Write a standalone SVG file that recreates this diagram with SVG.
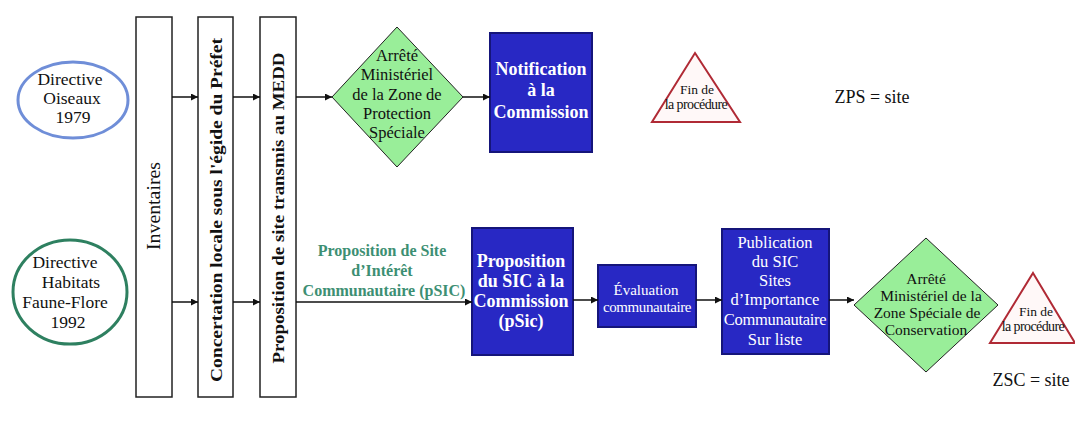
<svg xmlns="http://www.w3.org/2000/svg" width="1075" height="421" viewBox="0 0 1075 421">
<defs>
<style>
.t{font-family:"Liberation Serif","Times New Roman","DejaVu Serif",serif;text-anchor:middle;fill:#111}
.w{fill:#fff}
.b{font-weight:bold}
.g{fill:#3d8f73;font-weight:bold}
.col{fill:#fff;stroke:#222;stroke-width:1.5}
.box{fill:#2828c4;stroke:#15157a;stroke-width:2}
.dia{fill:#99ee99;stroke:#222;stroke-width:1}
.tri{fill:#fff8f8;stroke:#b02a35;stroke-width:2}
.c{stroke:#111;stroke-width:1.5;fill:none;marker-end:url(#ah)}
</style>
<marker id="ah" viewBox="0 0 10 10" refX="10" refY="5" markerWidth="8" markerHeight="7" markerUnits="userSpaceOnUse" orient="auto">
<path d="M0,0 L10,5 L0,10 z" fill="#111"/>
</marker>
</defs>
<rect width="1075" height="421" fill="#fff"/>

<g id="dir-oiseaux">
<ellipse cx="73" cy="100" rx="55" ry="38" fill="#fff" stroke="#6f8ed8" stroke-width="3"/>
<text class="t" x="70" y="85" font-size="17.5">Directive</text>
<text class="t" x="72" y="104" font-size="17.5">Oiseaux</text>
<text class="t" x="73" y="123" font-size="17.5">1979</text>
</g>
<g id="dir-habitats">
<ellipse cx="70" cy="292" rx="57" ry="52" fill="#fff" stroke="#2e8060" stroke-width="3"/>
<text class="t" x="65" y="268" font-size="17.5">Directive</text>
<text class="t" x="71" y="288" font-size="17.5">Habitats</text>
<text class="t" x="65" y="308" font-size="17.5">Faune-Flore</text>
<text class="t" x="68" y="328" font-size="17.5">1992</text>
</g>

<g id="inventaires">
<rect class="col" x="136" y="17" width="36" height="380"/>
<text class="t" transform="translate(160,206) rotate(-90)" font-size="18" textLength="88" lengthAdjust="spacingAndGlyphs">Inventaires</text>
</g>
<g id="concertation">
<rect class="col" x="198" y="17" width="35" height="380"/>
<text class="t b" transform="translate(222,210) rotate(-90)" font-size="17" textLength="344" lengthAdjust="spacingAndGlyphs">Concertation locale sous l'égide du Préfet</text>
</g>
<g id="proposition-medd">
<rect class="col" x="260" y="17" width="36" height="380"/>
<text class="t b" transform="translate(284,208) rotate(-90)" font-size="17" textLength="311" lengthAdjust="spacingAndGlyphs">Proposition de site transmis au MEDD</text>
</g>

<g id="arrete-zps">
<polygon class="dia" points="397,27 463,97 397,167 332,97"/>
<text class="t" x="397" y="61" font-size="16.5">Arrêté</text>
<text class="t" x="397" y="80" font-size="16.5">Ministériel</text>
<text class="t" x="397" y="100" font-size="16.5">de la Zone de</text>
<text class="t" x="397" y="119" font-size="16.5">Protection</text>
<text class="t" x="397" y="138" font-size="16.5">Spéciale</text>
</g>
<g id="notification">
<rect class="box" x="490" y="33" width="102" height="119"/>
<text class="t w b" x="541" y="75" font-size="18">Notification</text>
<text class="t w b" x="541" y="96" font-size="18">à la</text>
<text class="t w b" x="541" y="118" font-size="18">Commission</text>
</g>
<g id="fin-zps">
<polygon class="tri" points="695,53 740,122 652,122"/>
<text class="t" x="697" y="94" font-size="13.5">Fin de</text>
<text class="t" x="696" y="109" font-size="14" letter-spacing="-0.6">la procédure</text>
</g>
<g id="zps-label">
<text class="t" x="872" y="103" font-size="18">ZPS = site</text>
</g>

<g id="psic-label">
<text class="t g" x="382" y="256" font-size="16">Proposition de Site</text>
<text class="t g" x="382" y="276" font-size="16">d’Intérêt</text>
<text class="t g" x="384" y="296" font-size="16">Communautaire (pSIC)</text>
</g>
<g id="proposition-sic">
<rect class="box" x="472" y="228" width="101" height="127"/>
<text class="t w b" x="521" y="267" font-size="18">Proposition</text>
<text class="t w b" x="521" y="287" font-size="18">du SIC à la</text>
<text class="t w b" x="521" y="307" font-size="18">Commission</text>
<text class="t w b" x="521" y="327" font-size="18">(pSic)</text>
</g>
<g id="evaluation">
<rect class="box" x="598" y="265" width="98" height="62"/>
<text class="t w" x="646" y="295" font-size="15">Évaluation</text>
<text class="t w" x="647" y="312" font-size="15" letter-spacing="-0.4">communautaire</text>
</g>
<g id="publication">
<rect class="box" x="722" y="229" width="107" height="125"/>
<text class="t w" x="775" y="248" font-size="16.5">Publication</text>
<text class="t w" x="775" y="267" font-size="16.5">du SIC</text>
<text class="t w" x="775" y="286" font-size="16.5">Sites</text>
<text class="t w" x="775" y="305" font-size="16.5">d’Importance</text>
<text class="t w" x="775" y="325" font-size="16.5" letter-spacing="-0.3">Communautaire</text>
<text class="t w" x="775" y="345" font-size="16.5">Sur liste</text>
</g>
<g id="arrete-zsc">
<polygon class="dia" points="926,238 998,305 926,372 854,305"/>
<text class="t" x="926" y="284" font-size="15.5">Arrêté</text>
<text class="t" x="931" y="301" font-size="15.5">Ministériel de la</text>
<text class="t" x="927" y="318" font-size="15.5">Zone Spéciale de</text>
<text class="t" x="926" y="335" font-size="15.5">Conservation</text>
</g>
<g id="fin-zsc">
<polygon class="tri" points="1033,273 1075,343 990,343"/>
<text class="t" x="1036" y="316" font-size="13.5">Fin de</text>
<text class="t" x="1033" y="331" font-size="14" letter-spacing="-0.6">la procédure</text>
</g>
<g id="zsc-label">
<text class="t" x="1031" y="386" font-size="18">ZSC = site</text>
</g>

<g id="connectors">
<line class="c" x1="172" y1="97" x2="198" y2="97"/>
<line class="c" x1="233" y1="97" x2="260" y2="97"/>
<line class="c" x1="296" y1="97" x2="332" y2="97"/>
<line class="c" x1="463" y1="97" x2="490" y2="97"/>
<line class="c" x1="172" y1="302" x2="198" y2="302"/>
<line class="c" x1="233" y1="302" x2="260" y2="302"/>
<line class="c" x1="296" y1="302" x2="472" y2="302"/>
<line class="c" x1="573" y1="300" x2="598" y2="300"/>
<line class="c" x1="696" y1="300" x2="722" y2="300"/>
<line class="c" x1="829" y1="300" x2="854" y2="300"/>
</g>
</svg>
